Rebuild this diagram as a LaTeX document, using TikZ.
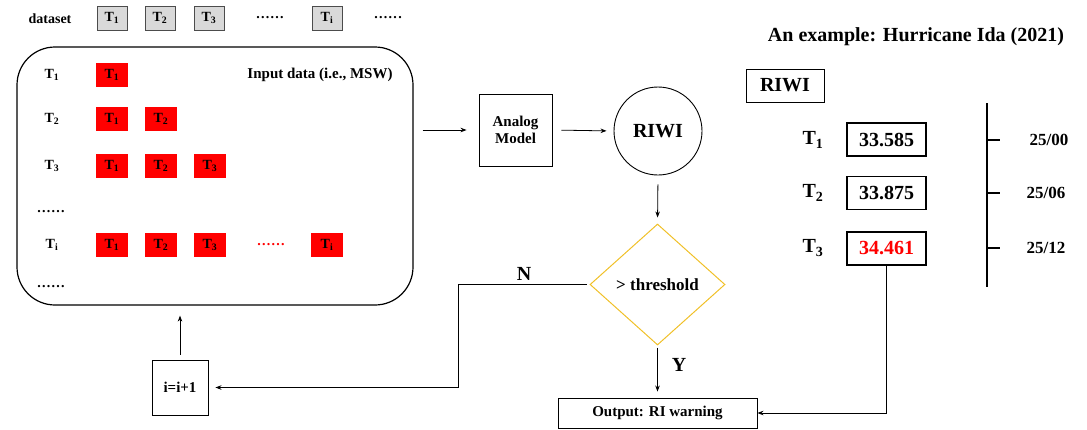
\documentclass[tikz,border=0pt]{standalone}
\usepackage{fontspec}
\setmainfont{Liberation Serif}
\usetikzlibrary{shapes.geometric,arrows.meta}
\newcommand\myfs[1]{\fontsize{#1}{#1}\selectfont}
\newcommand\mydots{.\kern1.3pt.\kern1.3pt.\kern1.3pt.\kern1.3pt.\kern1.3pt.}
\definecolor{diamY}{RGB}{240,192,40}
\definecolor{gfill}{RGB}{217,217,217}
\begin{document}
\begin{tikzpicture}[x=1pt,y=-1pt,
  txt/.style={inner sep=0pt, font=\bfseries\myfs{#1}},
  txt/.default=15,
  gbox/.style={draw=black!70, fill=gfill, line width=0.8pt, minimum width=30pt, minimum height=24pt, inner sep=0pt, font=\bfseries\myfs{14}},
  rbox/.style={fill=red, minimum width=32pt, minimum height=24pt, inner sep=0pt, font=\bfseries\myfs{14}},
  bx/.style={draw, line width=0.9pt, inner sep=0pt, font=\bfseries\myfs{#1}},
  bx/.default=15,
  arr/.style={-{Stealth[length=6pt,width=4.5pt]}, line width=0.8pt},
]
\useasboundingbox (0,0) rectangle (1087,429);

% ---- dataset row
\node[txt=14] (ds) at (50,19) {dataset};
\node[gbox] (g1) at (112,18) {T\textsubscript{1}};
\node[gbox] (g2) at (160,18) {T\textsubscript{2}};
\node[gbox] (g3) at (209,18) {T\textsubscript{3}};
\node[txt=14] (gd1) at (270,18) {\mydots};
\node[gbox] (gi) at (327,18) {T\textsubscript{i}};
\node[txt=14] (gd2) at (388,18) {\mydots};

% ---- input data box
\node[draw, line width=1.2pt, rounded corners=38pt, minimum width=396pt, minimum height=258pt, inner sep=0pt] (inp) at (215,176) {};
\node[txt=15] (inlab) at (320,75) {Input data (i.e., MSW)};

\node[txt=14] (r1) at (52,75) {T\textsubscript{1}};
\node[txt=14] (r2) at (52,119) {T\textsubscript{2}};
\node[txt=14] (r3) at (52,166) {T\textsubscript{3}};
\node[txt=14] (rd1) at (51,212) {\mydots};
\node[txt=14] (ri) at (52,245) {T\textsubscript{i}};
\node[txt=14] (rd2) at (51,287) {\mydots};

\node[rbox] (a11) at (112,75) {T\textsubscript{1}};
\node[rbox] (a21) at (112,119) {T\textsubscript{1}};
\node[rbox] (a22) at (161,119) {T\textsubscript{2}};
\node[rbox] (a31) at (112,166) {T\textsubscript{1}};
\node[rbox] (a32) at (161,166) {T\textsubscript{2}};
\node[rbox] (a33) at (210,166) {T\textsubscript{3}};
\node[rbox] (ai1) at (112,245) {T\textsubscript{1}};
\node[rbox] (ai2) at (161,245) {T\textsubscript{2}};
\node[rbox] (ai3) at (210,245) {T\textsubscript{3}};
\node[txt=14, text=red] (aid) at (271,245) {\mydots};
\node[rbox] (aii) at (327,245) {T\textsubscript{i}};

% ---- flow
\node[bx, minimum width=73pt, minimum height=72pt, align=center] (am) at (515.5,130) {Analog\\[2pt]Model};
\node[circle, draw, line width=0.9pt, minimum size=88pt, inner sep=0pt, font=\bfseries\myfs{20}] (riwi) at (658,131) {RIWI};
\node[diamond, draw=diamY, line width=1pt, minimum width=135pt, minimum height=121pt, inner sep=0pt, font=\bfseries\myfs{17}] (dm) at (657.5,284.5) {> threshold};
\node[bx, minimum width=56pt, minimum height=55pt] (inc) at (180,387.5) {i=i+1};
\node[bx, minimum width=199pt, minimum height=30pt] (out) at (657.5,413) {Output: RI warning};

\draw[arr, shorten <=9pt, shorten >=12pt] (inp.east |- am.west) -- (am.west);
\draw[arr, shorten <=9pt, shorten >=7pt] (am.east) -- (riwi.west);
\draw[arr, shorten <=9pt, shorten >=6pt] (riwi.south) -- (dm.north);
\coordinate (nc) at (458,284.5);
\draw[arr, shorten <=3pt, shorten >=7pt] (dm.west) -- (nc) |- (inc.east);
\node[txt=20] (nlab) at (524,274) {N};
\draw[arr, shorten <=5pt, shorten >=10pt] (inc.north) -- (inc.north |- inp.south);
\draw[arr, shorten <=2pt, shorten >=6pt] (dm.south) -- (out.north);
\node[txt=20] (ylab) at (679,365) {Y};

% ---- example panel
\node[txt=20] (title) at (916,37) {An example: Hurricane Ida (2021)};
\node[bx=20, minimum width=78pt, minimum height=33pt] (rw) at (785,85.5) {RIWI};
\node[txt=20] (t1) at (813,140) {T\textsubscript{1}};
\node[txt=20] (t2) at (813,193) {T\textsubscript{2}};
\node[txt=20] (t3) at (813,248) {T\textsubscript{3}};
\node[bx=20, line width=1.2pt, minimum width=79pt, minimum height=33pt] (v1) at (886.5,139.5) {33.585};
\node[bx=20, line width=1.2pt, minimum width=79pt, minimum height=33pt] (v2) at (886.5,193) {33.875};
\node[bx=20, line width=1.2pt, minimum width=79pt, minimum height=33pt, text=red] (v3) at (886.5,248.5) {34.461};
\draw[arr] (v3.south) |- (out.east);

\coordinate (tla) at (987,103);
\coordinate (tlb) at (987,287);
\draw[line width=1.8pt] (tla) -- (tlb);
\draw[line width=1.4pt] (987,140) -- (1000,140);
\draw[line width=1.4pt] (987,193) -- (1000,193);
\draw[line width=1.4pt] (987,248) -- (1000,248);
\node[txt=17] (d1) at (1049,140) {25/00};
\node[txt=17] (d2) at (1046,193) {25/06};
\node[txt=17] (d3) at (1046,248) {25/12};
\end{tikzpicture}
\end{document}
